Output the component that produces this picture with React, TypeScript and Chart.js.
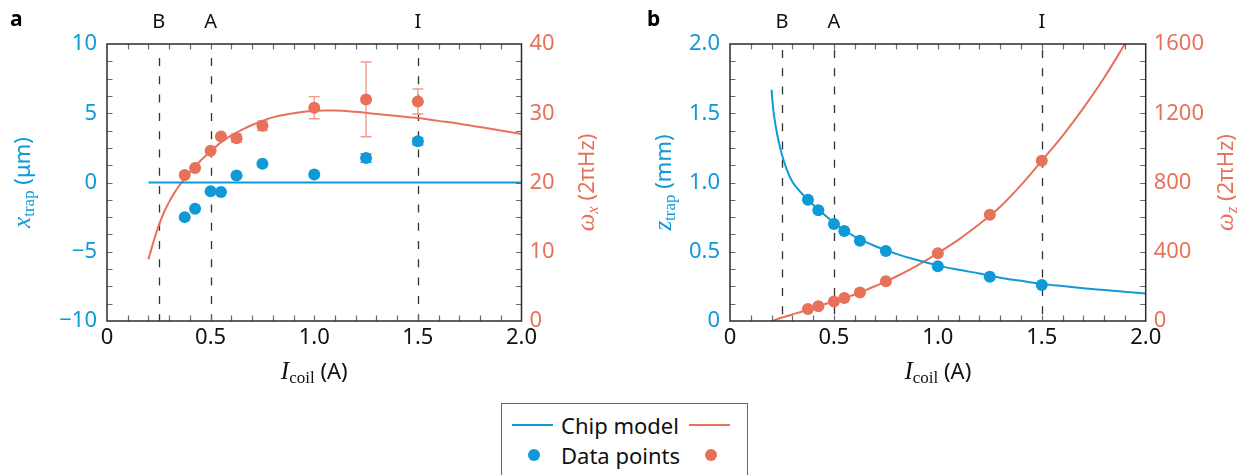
import React, { useEffect, useRef } from "react";
import { Chart, registerables } from "chart.js";
Chart.register(...registerables);

const BLUE = "#0f9ad7";
const ORANGE = "#e8715a";
const ORANGE_LIGHT = "#ef9d8b";

// ---------- Panel a data ----------
const aCurrents = [0.375, 0.425, 0.5, 0.55, 0.625, 0.75, 1.0, 1.25, 1.5];
const aXtrap = [-2.5, -1.9, -0.64, -0.69, 0.51, 1.36, 0.58, 1.76, 2.97];
const aXtrapErr = [0, 0, 0, 0, 0, 0, 0, 0.3, 0.25];
const aOmegaX = [21.1, 22.1, 24.6, 26.65, 26.4, 28.2, 30.8, 32.0, 31.7];
const aOmegaXErr = [0, 0, 0, 0, 0.6, 0.7, 1.6, 5.4, 1.8];
const aModelXtrapI = [0.2, 2.0];
const aModelXtrap = [0, 0];
const aModelOmegaI = [0.2, 0.225, 0.25, 0.275, 0.3, 0.325, 0.35, 0.4, 0.45, 0.5, 0.55, 0.6, 0.65, 0.7, 0.75, 0.8, 0.9, 1.0, 1.05, 1.1, 1.2, 1.3, 1.4, 1.5, 1.6, 1.7, 1.8, 1.9, 2.0];
const aModelOmega = [8.9, 11.5, 13.8, 15.7, 17.2, 18.5, 19.6, 21.5, 23.1, 24.5, 25.8, 26.8, 27.6, 28.3, 28.9, 29.4, 30.0, 30.35, 30.4, 30.4, 30.2, 29.9, 29.6, 29.3, 28.9, 28.5, 28.0, 27.5, 27.0];

// ---------- Panel b data ----------
const bCurrents = [0.375, 0.425, 0.5, 0.55, 0.625, 0.75, 1.0, 1.25, 1.5];
const bZtrap = [0.876, 0.8, 0.7, 0.65, 0.58, 0.505, 0.395, 0.32, 0.26];
const bOmegaZ = [69, 85, 112, 133, 164, 229, 392, 614, 926];
const bModelZI = [0.2, 0.205, 0.21, 0.22, 0.23, 0.24, 0.25, 0.275, 0.3, 0.325, 0.35, 0.375, 0.4, 0.425, 0.45, 0.5, 0.55, 0.6, 0.7, 0.8, 0.9, 1.0, 1.1, 1.2, 1.3, 1.4, 1.5, 1.6, 1.7, 1.8, 1.9, 2.0];
const bModelZ = [1.67, 1.575, 1.505, 1.405, 1.325, 1.26, 1.2, 1.085, 1.005, 0.955, 0.913, 0.876, 0.84, 0.805, 0.772, 0.71, 0.655, 0.61, 0.54, 0.485, 0.44, 0.4, 0.37, 0.343, 0.313, 0.29, 0.268, 0.252, 0.237, 0.224, 0.211, 0.198];
const bModelOmegaI = [0.2, 0.25, 0.3, 0.35, 0.375, 0.4, 0.45, 0.5, 0.55, 0.6, 0.65, 0.7, 0.75, 0.8, 0.9, 1.0, 1.1, 1.2, 1.25, 1.3, 1.4, 1.5, 1.6, 1.7, 1.8, 1.9];
const bModelOmega = [0, 20, 38, 56, 66, 77, 95, 113, 133, 153, 177, 202, 229, 257, 320, 392, 470, 560, 608, 660, 785, 926, 1070, 1230, 1405, 1600];

// ---------- ticks / annotations ----------
const markerLabels = ["B", "A", "I"];
const markerCurrents = [0.25, 0.5, 1.5];

const zip = (xs: number[], ys: number[]) => xs.map((x, i) => ({ x, y: ys[i] }));

type Part = { t: string; font: string; dy?: number };

function drawParts(ctx: CanvasRenderingContext2D, parts: Part[], cx: number, cy: number, rot: number, color: string) {
  ctx.save();
  ctx.translate(cx, cy);
  ctx.rotate(rot);
  ctx.fillStyle = color;
  ctx.textBaseline = "alphabetic";
  ctx.textAlign = "left";
  let w = 0;
  const ws = parts.map((p) => {
    ctx.font = p.font;
    const m = ctx.measureText(p.t).width;
    w += m;
    return m;
  });
  let x = -w / 2;
  parts.forEach((p, i) => {
    ctx.font = p.font;
    ctx.fillText(p.t, x, p.dy || 0);
    x += ws[i];
  });
  ctx.restore();
}

type PanelSpec = {
  letter: string;
  letterX: number;
  dashStart: number;
  blueErr?: number[];
  orangeErr?: number[];
  currents: number[];
  blueVals: number[];
  orangeVals: number[];
  leftTitle: Part[];
  leftTitleX: number;
  rightTitle: Part[];
  rightTitleX: number;
};

const SANS = "Noto Sans";
const SERIF = "Liberation Serif";

function makePlugin(spec: PanelSpec) {
  return {
    id: "panelDecor" + spec.letter,
    beforeDatasetsDraw(chart: any) {
      const { ctx, chartArea } = chart;
      const xs = chart.scales.x;
      ctx.save();
      ctx.strokeStyle = "#333";
      ctx.lineWidth = 1.3;
      ctx.setLineDash([8, 10.3]);
      markerCurrents.forEach((c) => {
        const px = Math.round(xs.getPixelForValue(c)) + 0.5;
        ctx.beginPath();
        ctx.moveTo(px, chartArea.top + spec.dashStart);
        ctx.lineTo(px, chartArea.bottom);
        ctx.stroke();
      });
      ctx.setLineDash([]);
      const drawErr = (vals: number[], errs: number[] | undefined, scale: any, color: string) => {
        if (!errs) return;
        ctx.strokeStyle = color;
        ctx.lineWidth = 1.4;
        spec.currents.forEach((c, i) => {
          if (!errs[i]) return;
          const px = xs.getPixelForValue(c);
          const y1 = scale.getPixelForValue(vals[i] - errs[i]);
          const y2 = scale.getPixelForValue(vals[i] + errs[i]);
          ctx.beginPath();
          ctx.moveTo(px, y1);
          ctx.lineTo(px, y2);
          ctx.moveTo(px - 5.5, y1);
          ctx.lineTo(px + 5.5, y1);
          ctx.moveTo(px - 5.5, y2);
          ctx.lineTo(px + 5.5, y2);
          ctx.stroke();
        });
      };
      drawErr(spec.blueVals, spec.blueErr, chart.scales.y, BLUE);
      drawErr(spec.orangeVals, spec.orangeErr, chart.scales.y2, ORANGE_LIGHT);
      ctx.restore();
    },
    afterDatasetsDraw(chart: any) {
      const { ctx, chartArea } = chart;
      const { left, right, top, bottom } = chartArea;
      ctx.save();
      ctx.strokeStyle = "#6a6a6a";
      ctx.lineWidth = 1.2;
      const tl = 5.5;
      ctx.beginPath();
      for (let i = 1; i < 20; i++) {
        const px = Math.round(left + ((right - left) * i) / 20) + 0.5;
        ctx.moveTo(px, bottom);
        ctx.lineTo(px, bottom - tl);
        ctx.moveTo(px, top);
        ctx.lineTo(px, top + tl);
      }
      for (let i = 1; i < 16; i++) {
        const py = Math.round(top + ((bottom - top) * i) / 16) + 0.5;
        ctx.moveTo(left, py);
        ctx.lineTo(left + tl, py);
        ctx.moveTo(right, py);
        ctx.lineTo(right - tl, py);
      }
      ctx.stroke();
      ctx.strokeStyle = "#2b2b2b";
      ctx.lineWidth = 1.5;
      ctx.strokeRect(left, top, right - left, bottom - top);
      ctx.restore();
    },
    afterDraw(chart: any) {
      const { ctx, chartArea } = chart;
      const xs = chart.scales.x;
      ctx.save();
      ctx.fillStyle = "#000";
      ctx.font = `bold 21px "${SANS}"`;
      ctx.textBaseline = "alphabetic";
      ctx.textAlign = "left";
      ctx.fillText(spec.letter, spec.letterX, 26);
      ctx.fillStyle = "#111";
      ctx.font = `20px "${SANS}"`;
      ctx.textAlign = "center";
      markerLabels.forEach((l, i) => {
        ctx.fillText(l, xs.getPixelForValue(markerCurrents[i]), 28);
      });
      ctx.restore();
      const cx = (chartArea.left + chartArea.right) / 2;
      const cy = (chartArea.top + chartArea.bottom) / 2;
      drawParts(
        ctx,
        [
          { t: "I", font: `italic 25px "${SERIF}"` },
          { t: "coil", font: `17px "${SERIF}"`, dy: 4 },
          { t: " (A)", font: `22px "${SANS}"` },
        ],
        cx,
        379,
        0,
        "#111"
      );
      drawParts(ctx, spec.leftTitle, spec.leftTitleX, cy, -Math.PI / 2, BLUE);
      drawParts(ctx, spec.rightTitle, spec.rightTitleX, cy, -Math.PI / 2, ORANGE);
    },
  };
}

function buildConfig(opts: {
  chartLeft: number;
  rightWidth: number;
  yMin: number;
  yMax: number;
  yStep: number;
  yFmt: (v: number) => string;
  y2Max: number;
  y2Step: number;
  blueModel: { x: number; y: number }[];
  orangeModel: { x: number; y: number }[];
  bluePts: { x: number; y: number }[];
  orangePts: { x: number; y: number }[];
  plugin: any;
}) {
  const tickFont = { family: SANS, size: 22 };
  return {
    type: "scatter" as const,
    data: {
      datasets: [
        {
          label: "Data points",
          data: opts.bluePts,
          yAxisID: "y",
          backgroundColor: BLUE,
          borderColor: BLUE,
          pointRadius: 6,
          pointBorderWidth: 0,
          order: 0,
        },
        {
          label: "Data points",
          data: opts.orangePts,
          yAxisID: "y2",
          backgroundColor: ORANGE,
          borderColor: ORANGE,
          pointRadius: 6,
          pointBorderWidth: 0,
          order: 0,
        },
        {
          type: "line" as const,
          label: "Chip model",
          data: opts.blueModel,
          yAxisID: "y",
          borderColor: BLUE,
          borderWidth: 2,
          pointRadius: 0,
          showLine: true,
          cubicInterpolationMode: "monotone",
          order: 1,
        },
        {
          type: "line" as const,
          label: "Chip model",
          data: opts.orangeModel,
          yAxisID: "y2",
          borderColor: ORANGE,
          borderWidth: 2,
          pointRadius: 0,
          showLine: true,
          cubicInterpolationMode: "monotone",
          order: 1,
        },
      ],
    },
    options: {
      responsive: false,
      animation: false,
      events: [],
      layout: { padding: { top: 44, left: 0, right: 0, bottom: 0 } },
      plugins: { legend: { display: false }, tooltip: { enabled: false } },
      scales: {
        x: {
          type: "linear",
          position: "bottom",
          min: 0,
          max: 2,
          ticks: {
            stepSize: 0.5,
            autoSkip: false,
            maxRotation: 0,
            padding: 4,
            color: "#111",
            font: tickFont,
            callback: (v: number) => (v === 0 ? "0" : v.toFixed(1)),
          },
          grid: { display: false, drawTicks: false },
          border: { display: false },
          afterFit: (s: any) => {
            s.height = 79;
          },
        },
        y: {
          type: "linear",
          position: "left",
          min: opts.yMin,
          max: opts.yMax,
          ticks: { stepSize: opts.yStep, padding: 10, color: BLUE, font: tickFont, callback: opts.yFmt },
          grid: { display: false, drawTicks: false },
          border: { display: false },
          afterFit: (s: any) => {
            s.width = opts.chartLeft;
          },
        },
        y2: {
          type: "linear",
          position: "right",
          min: 0,
          max: opts.y2Max,
          ticks: { stepSize: opts.y2Step, padding: 8, color: ORANGE, font: tickFont, callback: (v: number) => String(v) },
          grid: { display: false, drawTicks: false },
          border: { display: false },
          afterFit: (s: any) => {
            s.width = opts.rightWidth;
          },
        },
      },
    },
    plugins: [opts.plugin],
  };
}

function Panel(props: { width: number; left: number; config: any }) {
  const ref = useRef<HTMLCanvasElement | null>(null);
  useEffect(() => {
    if (!ref.current) return;
    const chart = new Chart(ref.current, props.config);
    return () => chart.destroy();
  }, []);
  return (
    <canvas
      ref={ref}
      width={props.width}
      height={400}
      style={{ position: "absolute", left: props.left, top: 0, width: props.width, height: 400 }}
    />
  );
}

const minusFmt = (v: number) => (v < 0 ? "\u2212" + Math.abs(v) : String(v));

export default function App() {
  const specA: PanelSpec = {
    letter: "a",
    letterX: 10,
    dashStart: 14,
    blueErr: aXtrapErr,
    orangeErr: aOmegaXErr,
    currents: aCurrents,
    blueVals: aXtrap,
    orangeVals: aOmegaX,
    leftTitle: [
      { t: "x", font: `italic 25px "${SERIF}"` },
      { t: "trap", font: `17px "${SERIF}"`, dy: 4 },
      { t: " (\u03bcm)", font: `22px "${SANS}"` },
    ],
    leftTitleX: 30,
    rightTitle: [
      { t: "\u03c9", font: `italic 25px "${SERIF}"` },
      { t: "x", font: `italic 17px "${SERIF}"`, dy: 4 },
      { t: " (2\u03c0Hz)", font: `22px "${SANS}"` },
    ],
    rightTitleX: 594,
  };
  const specB: PanelSpec = {
    letter: "b",
    letterX: 7,
    dashStart: 6,
    currents: bCurrents,
    blueVals: bZtrap,
    orangeVals: bOmegaZ,
    leftTitle: [
      { t: "z", font: `italic 25px "${SERIF}"` },
      { t: "trap", font: `17px "${SERIF}"`, dy: 4 },
      { t: " (mm)", font: `22px "${SANS}"` },
    ],
    leftTitleX: 31,
    rightTitle: [
      { t: "\u03c9", font: `italic 25px "${SERIF}"` },
      { t: "z", font: `italic 17px "${SERIF}"`, dy: 4 },
      { t: " (2\u03c0Hz)", font: `22px "${SANS}"` },
    ],
    rightTitleX: 593,
  };
  const configA = buildConfig({
    chartLeft: 107,
    rightWidth: 640 - 521.5,
    yMin: -10,
    yMax: 10,
    yStep: 5,
    yFmt: minusFmt,
    y2Max: 40,
    y2Step: 10,
    blueModel: zip(aModelXtrapI, aModelXtrap),
    orangeModel: zip(aModelOmegaI, aModelOmega),
    bluePts: zip(aCurrents, aXtrap),
    orangePts: zip(aCurrents, aOmegaX),
    plugin: makePlugin(specA),
  });
  const configB = buildConfig({
    chartLeft: 90,
    rightWidth: 615 - 505.7,
    yMin: 0,
    yMax: 2,
    yStep: 0.5,
    yFmt: (v: number) => (v === 0 ? "0" : v.toFixed(1)),
    y2Max: 1600,
    y2Step: 400,
    blueModel: zip(bModelZI, bModelZ),
    orangeModel: zip(bModelOmegaI, bModelOmega),
    bluePts: zip(bCurrents, bZtrap),
    orangePts: zip(bCurrents, bOmegaZ),
    plugin: makePlugin(specB),
  });

  const legendText: React.CSSProperties = {
    position: "absolute",
    left: 59,
    fontFamily: SANS,
    fontSize: 22,
    color: "#111",
    lineHeight: "26px",
    whiteSpace: "nowrap",
  };
  return (
    <div style={{ position: "absolute", left: 0, top: 0, width: 1255, height: 475, overflow: "hidden", background: "#fff" }}>
      <Panel width={640} left={0} config={configA} />
      <Panel width={615} left={640} config={configB} />
      <div
        style={{
          position: "absolute",
          left: 501,
          top: 403,
          width: 245,
          height: 90,
          border: "1.5px solid #666",
          background: "#fff",
        }}
      >
        <div style={{ position: "absolute", left: 10, top: 20, width: 41, height: 2, background: BLUE }} />
        <div style={{ ...legendText, top: 8 }}>Chip model</div>
        <div style={{ position: "absolute", left: 187, top: 20, width: 41, height: 2, background: ORANGE }} />
        <div style={{ position: "absolute", left: 26, top: 45, width: 12, height: 12, borderRadius: 6, background: BLUE }} />
        <div style={{ ...legendText, top: 38 }}>Data points</div>
        <div style={{ position: "absolute", left: 203, top: 45, width: 12, height: 12, borderRadius: 6, background: ORANGE }} />
      </div>
    </div>
  );
}
